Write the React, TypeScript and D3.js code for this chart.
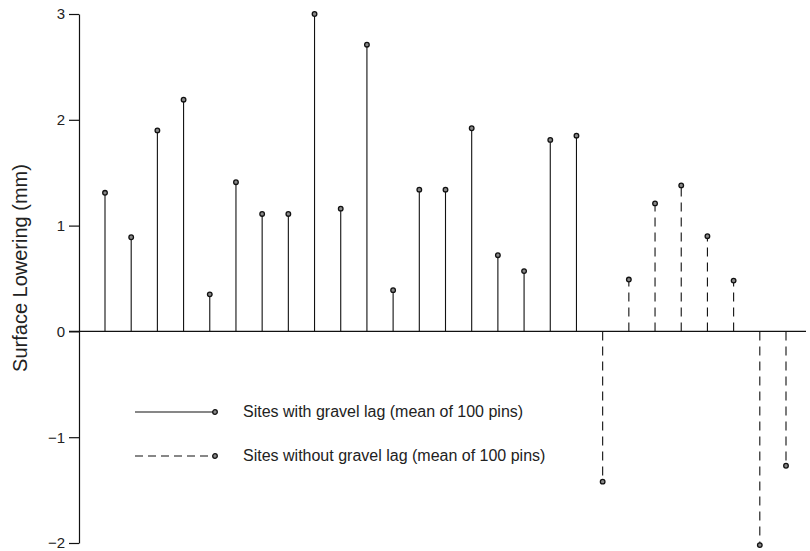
import React, { useEffect, useRef } from 'react';
import * as d3 from 'd3';

// 27 sites, values in mm
const gravelSites = [1, 2, 3, 4, 5, 6, 7, 8, 9, 10, 11, 12, 13, 14, 15, 16, 17, 18, 19];
const gravelValues = [1.31, 0.89, 1.9, 2.19, 0.35, 1.41, 1.11, 1.11, 3.0, 1.16, 2.71, 0.39, 1.34, 1.34, 1.92, 0.72, 0.57, 1.81, 1.85];
const noGravelSites = [20, 21, 22, 23, 24, 25, 26, 27];
const noGravelValues = [-1.42, 0.49, 1.21, 1.38, 0.9, 0.48, -2.02, -1.27];
const yTicks = [3, 2, 1, 0, -1, -2];
const legendLabels = ['Sites with gravel lag (mean of 100 pins)', 'Sites without gravel lag (mean of 100 pins)'];

export default function App() {
  const svgRef = useRef<SVGSVGElement | null>(null);

  useEffect(() => {
    const width = 810;
    const height = 551;
    const svg = d3.select(svgRef.current);
    svg.selectAll('*').remove();

    const font = 'Liberation Sans, Arial, Helvetica, sans-serif';
    const x = d3.scaleLinear().domain([1, 27]).range([105, 786]);
    const y = d3.scaleLinear().domain([-2, 3]).range([543, 14]);

    // y axis
    const axis = svg.append('g').attr('transform', 'translate(79,0)');
    axis.call(d3.axisLeft(y).tickValues(yTicks).tickSize(10).tickSizeOuter(0).tickFormat(d => {
      const v = Number(d);
      return v < 0 ? '\u2212' + Math.abs(v) : String(v);
    }));
    axis.select('.domain').attr('stroke', '#111').attr('stroke-width', 1.2);
    axis.selectAll('.tick line').attr('stroke', '#111').attr('stroke-width', 1.2);
    axis.selectAll('.tick text')
      .attr('font-family', font)
      .attr('font-size', 15)
      .attr('fill', '#222')
      .attr('x', -14);

    // zero line
    svg.append('line')
      .attr('x1', 69).attr('x2', 806)
      .attr('y1', y(0)).attr('y2', y(0))
      .attr('stroke', '#111').attr('stroke-width', 1.1);

    svg.append('text')
      .attr('transform', `translate(27,268) rotate(-90)`)
      .attr('text-anchor', 'middle')
      .attr('font-family', font)
      .attr('font-size', 20)
      .attr('fill', '#222')
      .text('Surface Lowering (mm)');

    const drawStems = (sites: number[], values: number[], dash: string | null) => {
      const g = svg.append('g');
      sites.forEach((s, i) => {
        g.append('line')
          .attr('x1', x(s)).attr('x2', x(s))
          .attr('y1', y(0)).attr('y2', y(values[i]))
          .attr('stroke', '#111').attr('stroke-width', 1.1)
          .attr('stroke-dasharray', dash);
        g.append('circle')
          .attr('cx', x(s)).attr('cy', y(values[i]))
          .attr('r', 2.3)
          .attr('fill', '#888').attr('stroke', '#111').attr('stroke-width', 1.3);
      });
    };
    drawStems(gravelSites, gravelValues, null);
    drawStems(noGravelSites, noGravelValues, '9,6');

    // legend
    const legend = svg.append('g').attr('transform', 'translate(135,412)');
    legendLabels.forEach((label, i) => {
      const row = legend.append('g').attr('transform', `translate(0,${i * 44})`);
      row.append('line')
        .attr('x1', 0).attr('x2', 80).attr('y1', 0).attr('y2', 0)
        .attr('stroke', '#111').attr('stroke-width', 1.1)
        .attr('stroke-dasharray', i === 0 ? null : '8,5');
      row.append('circle')
        .attr('cx', 80).attr('cy', 0).attr('r', 2.3)
        .attr('fill', '#888').attr('stroke', '#111').attr('stroke-width', 1.3);
      row.append('text')
        .attr('x', 108).attr('y', 5)
        .attr('font-family', font)
        .attr('font-size', 16)
        .attr('fill', '#222')
        .text(label);
    });

    svg.attr('width', width).attr('height', height);
  }, []);

  return (
    <div style={{ position: 'absolute', top: 0, left: 0, width: 810, height: 551, background: '#fff' }}>
      <svg ref={svgRef} width={810} height={551} style={{ display: 'block' }} />
    </div>
  );
}
